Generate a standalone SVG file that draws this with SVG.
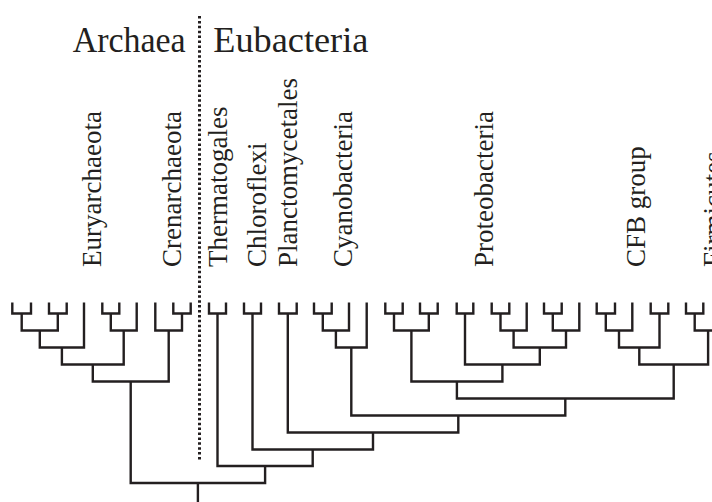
<svg xmlns="http://www.w3.org/2000/svg" width="712" height="502" viewBox="0 0 712 502">
<style>
.t{fill:none;stroke:#231f20;stroke-width:2.4;stroke-linejoin:miter;stroke-linecap:butt}
.d{fill:none;stroke:#231f20;stroke-width:3;stroke-dasharray:2.5 2.4}
.lab{font-family:"Liberation Serif","Times New Roman",serif;font-size:27px;fill:#231f20}
.hd{font-family:"Liberation Serif","Times New Roman",serif;font-size:35px;fill:#231f20}
</style>
<rect width="712" height="502" fill="#ffffff"/>
<g id="headers">
<text class="hd" x="72.7" y="51.7" textLength="113" lengthAdjust="spacingAndGlyphs">Archaea</text>
<text class="hd" x="213.3" y="51.7" textLength="155" lengthAdjust="spacingAndGlyphs">Eubacteria</text>
</g>
<g id="divider"><line class="d" x1="199.5" y1="16" x2="199.5" y2="460"/></g>
<g id="labels">
<g id="euryarchaeota"><text class="lab" transform="translate(101,267) rotate(-90)">Euryarchaeota</text></g>
<g id="crenarchaeota"><text class="lab" transform="translate(181,267) rotate(-90)">Crenarchaeota</text></g>
<g id="thermatogales"><text class="lab" transform="translate(227,267) rotate(-90)">Thermatogales</text></g>
<g id="chloroflexi"><text class="lab" transform="translate(266,267) rotate(-90)">Chloroflexi</text></g>
<g id="planctomycetales"><text class="lab" transform="translate(297,267) rotate(-90)">Planctomycetales</text></g>
<g id="cyanobacteria"><text class="lab" transform="translate(352,267) rotate(-90)">Cyanobacteria</text></g>
<g id="proteobacteria"><text class="lab" transform="translate(493,267) rotate(-90)">Proteobacteria</text></g>
<g id="cfb"><text class="lab" transform="translate(645,267) rotate(-90)">CFB group</text></g>
<g id="firmicutes"><text class="lab" transform="translate(721.5,267) rotate(-90)">Firmicutes</text></g>
</g>
<g id="connectors" class="t">
<!-- Archaea -->
<path d="M12.3 302.5V313.5H31V302.5"/>
<path d="M49 302.5V313.5H66.7V302.5"/>
<path d="M21.7 313.5V330.5H57.8V313.5"/>
<path d="M39.8 330.5V347.5H84V302.5"/>
<path d="M102.3 302.5V313.5H119.3V302.5"/>
<path d="M110.8 313.5V330.5H136.7V302.5"/>
<path d="M61.9 347.5V364.5H123.7V330.5"/>
<path d="M173.3 302.5V313.5H190.7V302.5"/>
<path d="M155.3 302.5V330.5H182V313.5"/>
<path d="M92.8 364.5V381.5H168.7V330.5"/>
<!-- Eubacteria -->
<path d="M209 302.5V313.5H226V302.5"/>
<path d="M244 302.5V313.5H261V302.5"/>
<path d="M279 302.5V313.5H296.7V302.5"/>
<path d="M314 302.5V313.5H331.7V302.5"/>
<path d="M322.8 313.5V330.5H349V302.5"/>
<path d="M335.9 330.5V347.5H366.7V302.5"/>
<path d="M385.3 302.5V313.5H402.7V302.5"/>
<path d="M420 302.5V313.5H437.7V302.5"/>
<path d="M394 313.5V330.5H428.8V313.5"/>
<path d="M456.7 302.5V313.5H473.3V302.5"/>
<path d="M491.7 302.5V313.5H509.3V302.5"/>
<path d="M500.5 313.5V330.5H526.7V302.5"/>
<path d="M544 302.5V313.5H561.7V302.5"/>
<path d="M552.8 313.5V330.5H579.3V302.5"/>
<path d="M513.6 330.5V347.5H566V330.5"/>
<path d="M465 313.5V364.5H539.8V347.5"/>
<path d="M411.4 330.5V381.5H502.4V364.5"/>
<path d="M596.7 302.5V313.5H615V302.5"/>
<path d="M605.8 313.5V330.5H632.3V302.5"/>
<path d="M650.7 302.5V313.5H668.3V302.5"/>
<path d="M619 330.5V347.5H659.5V313.5"/>
<path d="M686 302.5V313.5H703.3V302.5"/>
<path d="M694.7 313.5V330.5H721.5V302.5"/>
<path d="M639.3 347.5V364.5H708.1V330.5"/>
<path d="M456.9 381.5V398.5H673.7V364.5"/>
<path d="M351.3 347.5V415.5H565.3V398.5"/>
<path d="M287.8 313.5V432.5H458.3V415.5"/>
<path d="M252.5 313.5V449.5H373V432.5"/>
<path d="M217.5 313.5V466H312.7V449.5"/>
<!-- root -->
<path d="M130.7 381.5V483H265.1V466"/>
<path d="M197.9 483V502"/>
</g>
</svg>
